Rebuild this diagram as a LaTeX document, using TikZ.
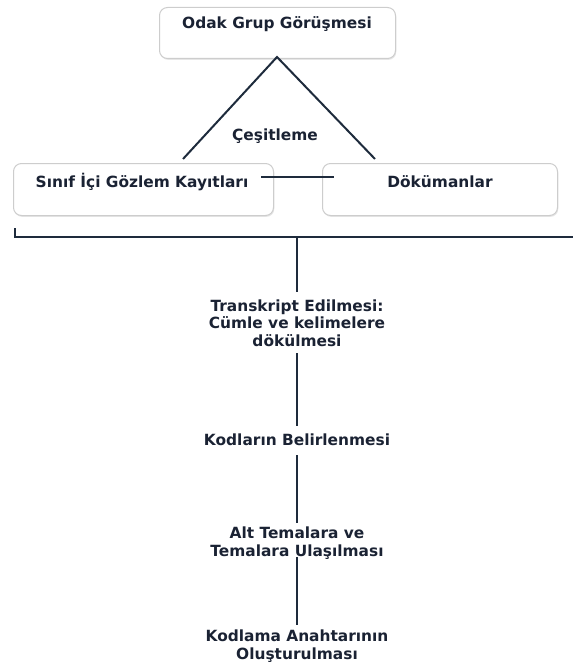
\documentclass[tikz,border=0pt]{standalone}
\usepackage{fontspec}
\setmainfont{DejaVu Sans}
\usetikzlibrary{shadows}
\definecolor{ink}{HTML}{1A2233}
\definecolor{linecol}{HTML}{1E2B3C}
\definecolor{boxline}{HTML}{CDCDCD}
\begin{document}
\begin{tikzpicture}[x=1pt,y=-1pt,
  card/.style={draw=boxline, line width=1pt, fill=white, rounded corners=8pt,
    drop shadow={opacity=0.2, shadow xshift=0.8pt, shadow yshift=-1.4pt}},
  lbl/.style={font=\bfseries\fontsize{15.4}{17.5}\selectfont, text=ink, align=center, inner sep=0pt},
  wire/.style={draw=linecol, line width=2.4pt}]
\useasboundingbox (0,0) rectangle (573,669);

% sources
\node[card, minimum width=236, minimum height=51, anchor=north west] (odak) at (159,7) {};
\node[lbl] (odakT) at (277,24) {Odak Grup Görüşmesi};
\node[card, minimum width=260, minimum height=52, anchor=north west] (sinif) at (13,163) {};
\node[lbl] (sinifT) at (142,182) {Sınıf İçi Gözlem Kayıtları};
\node[card, minimum width=235, minimum height=52, anchor=north west] (dokuman) at (322,163) {};
\node[lbl] (dokumanT) at (440,182) {Dökümanlar};
\node[lbl] (cesit) at (275,136) {Çeşitleme};

% triangulation lines
\coordinate (apex) at (277,57);
\coordinate (footL) at (183,159);
\coordinate (footR) at (375,159);
\draw[wire, line width=2pt] (footL) -- (apex) -- (footR);
\coordinate (linkL) at (261,177);
\coordinate (linkR) at (334,177);
\draw[wire, line width=2pt] (linkL) -- (linkR);

% bracket gathering the sources
\coordinate (brL) at (15,228);
\coordinate (brC) at (297,237);
\coordinate (brR) at (573,237);
\draw[wire] (brL) |- (brR);

% analysis steps
\node[lbl] (trans) at (297,323) {Transkript Edilmesi:\\Cümle ve kelimelere\\dökülmesi};
\node[lbl] (kod) at (297,440) {Kodların Belirlenmesi};
\node[lbl] (tema) at (297,543) {Alt Temalara ve\\Temalara Ulaşılması};
\node[lbl] (anahtar) at (297,646) {Kodlama Anahtarının\\Oluşturulması};

\coordinate (s1a) at (297,292);
\coordinate (s2a) at (297,353);
\coordinate (s2b) at (297,426);
\coordinate (s3a) at (297,455);
\coordinate (s3b) at (297,523);
\coordinate (s4a) at (297,557);
\coordinate (s4b) at (297,625);
\draw[wire] (brC) -- (s1a);
\draw[wire] (s2a) -- (s2b);
\draw[wire] (s3a) -- (s3b);
\draw[wire] (s4a) -- (s4b);
\end{tikzpicture}
\end{document}
